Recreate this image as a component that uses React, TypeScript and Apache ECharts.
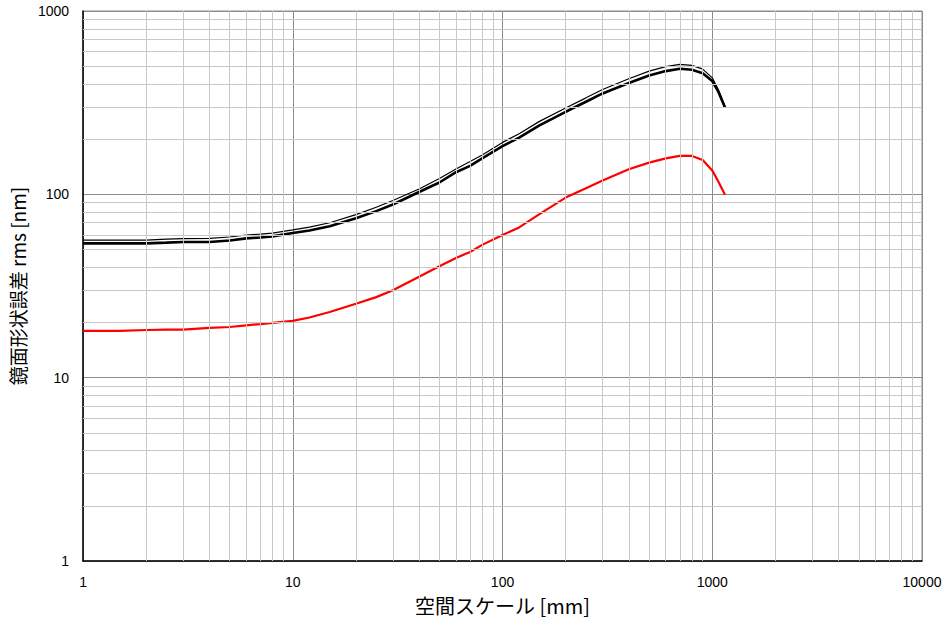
import React, { useEffect, useRef } from "react";
import * as echarts from "echarts";

// spatial scale [mm]
const scaleMm = [1, 1.5, 2, 2.5, 3, 4, 5, 6, 7, 8, 10, 12, 15, 20, 25, 30, 40, 50, 60, 70, 80, 100, 120, 150, 200, 250, 300, 400, 500, 600, 700, 800, 900, 1000, 1070, 1150];

// figure error rms [nm]
const blackUpper = [56.3, 56.3, 56.3, 57, 57.3, 57.5, 58.5, 60, 60.7, 61.5, 64, 66.2, 70, 77.5, 85, 92.5, 107, 122, 137.5, 151, 164, 192, 214, 250, 296, 336, 373, 427, 470, 497, 512, 505, 482, 432, 372, 302];
const blackLower = [54, 54, 54, 54.5, 55, 55, 56, 57.5, 58.2, 59, 61.5, 63.5, 67, 74, 81, 88, 103, 116, 132, 143, 157, 183, 204, 238, 282, 320, 355, 405, 445, 470, 484, 478, 458, 415, 362, 298];
const redLine = [18, 18, 18.2, 18.3, 18.3, 18.7, 18.9, 19.3, 19.6, 19.9, 20.4, 21.3, 22.8, 25.3, 27.5, 30, 35.5, 40.5, 45, 48.5, 53, 60, 66, 78, 96, 108, 119, 137, 149, 157, 162, 162, 154, 135, 117, 99.6];

// log grid structure
const xDecades = [1, 10, 100, 1000];
const yDecades = [1, 10, 100];
const minorSteps = [2, 3, 4, 5, 6, 7, 8, 9];

const pairs = (ys: number[]) => scaleMm.map((x, i) => [x, ys[i]]);

export default function App() {
  const ref = useRef<HTMLDivElement>(null);
  useEffect(() => {
    if (!ref.current) return;
    const chart = echarts.init(ref.current, null, { renderer: "svg" });
    const minorX = xDecades.flatMap((d) => minorSteps.map((m) => ({ xAxis: d * m })));
    const minorY = yDecades.flatMap((d) => minorSteps.map((m) => ({ yAxis: d * m })));
    const latin = "'Liberation Sans', Arial, sans-serif";
    const cjk = "'Noto Sans CJK JP', sans-serif";
    const fmt = (v: number) => String(Math.round(v));
    chart.setOption({
      animation: false,
      backgroundColor: "#ffffff",
      grid: {
        left: 81,
        top: 11,
        right: 23,
        bottom: 64,
        show: true,
        borderColor: "#8c8c8c",
        borderWidth: 1,
      },
      xAxis: {
        type: "log",
        logBase: 10,
        min: 1,
        max: 10000,
        name: "空間スケール [mm]",
        nameLocation: "middle",
        nameGap: 34,
        nameTextStyle: { fontFamily: cjk, fontSize: 20, color: "#000" },
        axisLine: { show: true, lineStyle: { color: "#000", width: 1.5 } },
        axisTick: { show: false },
        axisLabel: { fontFamily: latin, fontSize: 14, color: "#000", margin: 14, formatter: fmt },
        splitLine: { show: true, lineStyle: { color: "#8c8c8c", width: 1 } },
      },
      yAxis: {
        type: "log",
        logBase: 10,
        min: 1,
        max: 1000,
        name: "鏡面形状誤差 rms [nm]",
        nameLocation: "middle",
        nameGap: 52,
        nameRotate: 90,
        nameTextStyle: { fontFamily: cjk, fontSize: 19, color: "#000" },
        axisLine: { show: true, lineStyle: { color: "#000", width: 1.5 } },
        axisTick: { show: false },
        axisLabel: { fontFamily: latin, fontSize: 14, color: "#000", margin: 14, formatter: fmt },
        splitLine: { show: true, lineStyle: { color: "#8c8c8c", width: 1 } },
      },
      series: [
        {
          type: "line",
          data: [],
          z: 1,
          silent: true,
          markLine: {
            silent: true,
            symbol: ["none", "none"],
            label: { show: false },
            lineStyle: { type: "solid", color: "#c8c8c8", width: 1 },
            emphasis: { disabled: true },
            data: [...minorX, ...minorY],
          },
        },
        {
          type: "line",
          data: pairs(blackUpper),
          z: 3,
          showSymbol: false,
          lineStyle: { color: "#000", width: 1.2 },
        },
        {
          type: "line",
          data: pairs(blackLower),
          z: 3,
          showSymbol: false,
          lineStyle: { color: "#000", width: 2.6 },
        },
        {
          type: "line",
          data: pairs(redLine),
          z: 3,
          showSymbol: false,
          lineStyle: { color: "#ff0000", width: 2.2 },
        },
      ],
    });
    return () => chart.dispose();
  }, []);
  return <div ref={ref} style={{ width: 945, height: 625, position: "absolute", left: 0, top: 0 }} />;
}
